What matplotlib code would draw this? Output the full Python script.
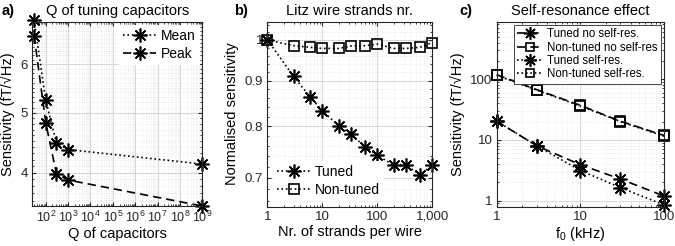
import matplotlib
matplotlib.use("Agg")
import matplotlib.pyplot as plt
from matplotlib.ticker import FixedLocator, FixedFormatter, MultipleLocator, LogLocator, NullFormatter, LogFormatterSciNotation

plt.rcParams['font.family'] = ['Liberation Sans', 'DejaVu Sans']
plt.rcParams['mathtext.fontset'] = 'custom'
plt.rcParams['mathtext.rm'] = 'Liberation Sans'
plt.rcParams['mathtext.it'] = 'Liberation Sans:italic'

# ---- Panel a data ----
q_caps = [30, 100, 300, 1000, 1e9]
sens_mean = [7.08, 5.24, 4.47, 4.36, 4.13]
sens_peak = [6.68, 4.82, 3.98, 3.89, 3.53]

# ---- Panel b data ----
strands = [1, 3, 6, 10, 20, 33, 60, 100, 200, 330, 600, 1000]
norm_tuned = [1.0, 0.910, 0.863, 0.833, 0.800, 0.783, 0.759, 0.742, 0.723, 0.723, 0.706, 0.723]
norm_nontuned = [1.0, 0.985, 0.981, 0.978, 0.978, 0.984, 0.985, 0.989, 0.978, 0.978, 0.981, 0.993]
b_xticks = [1, 10, 100, 1000]
b_xticklabels = ['1', '10', '100', '1,000']

# ---- Panel c data ----
f0 = [1, 3, 10, 30, 100]
tuned_noself = [20.3, 8.0, 3.9, 2.27, 1.19]
nontuned_noself = [118, 67, 37, 20.3, 11.8]
tuned_self = [20.3, 8.0, 3.13, 1.64, 0.85]
nontuned_self = [116, 66, 36, 20.0, 11.5]

W, H = 675, 246
fig = plt.figure(figsize=(W / 100, H / 100), dpi=100)

def rect(l, r, t, b):
    return [l / W, 1 - b / H, (r - l) / W, (b - t) / H]

ax_a = fig.add_axes(rect(32.3, 202.3, 22.3, 206))
ax_b = fig.add_axes(rect(267.3, 432.3, 21.7, 206.5))
ax_c = fig.add_axes(rect(496.7, 664, 22, 206.5))

AST = (8, 2, 0)
lw = 1.2
ms = 10
FS = 10.5
TFS = 9.5

def style(ax):
    ax.set_axisbelow(True)
    ax.grid(True, which='major', color='#d0d0d0', lw=0.6, ls='-')
    ax.grid(True, which='minor', color='#e0e0e0', lw=0.5, ls=':')
    ax.tick_params(which='both', direction='in', top=True, right=True,
                   labelsize=TFS, colors='#262626', pad=3)
    ax.tick_params(which='major', length=3)
    ax.tick_params(which='minor', length=1.5)
    for s in ax.spines.values():
        s.set_color('#262626')
        s.set_linewidth(0.8)

def white_legend(ax, edge, **kw):
    leg = ax.legend(frameon=True, fancybox=False, **kw)
    leg.get_frame().set_edgecolor(edge)
    leg.get_frame().set_linewidth(0.6)
    leg.get_frame().set_facecolor('white')
    leg.get_frame().set_alpha(1)
    return leg

# Panel a
ax = ax_a
ax.plot(q_caps, sens_mean, ls=':', color='k', lw=lw, marker=AST, ms=ms, mew=1.2,
        label='Mean', clip_on=False)
ax.plot(q_caps, sens_peak, ls=(0, (5, 3)), color='k', lw=lw, marker=AST, ms=ms, mew=1.2,
        label='Peak', clip_on=False)
ax.set_xscale('log')
ax.set_yscale('log')
ax.set_xlim(25, 1e9)
ax.set_ylim(3.53, 7.02)
ax.xaxis.set_major_locator(FixedLocator([10.0 ** k for k in range(2, 10)]))
ax.xaxis.set_major_formatter(LogFormatterSciNotation())
ax.xaxis.set_minor_locator(LogLocator(base=10, subs=range(2, 10), numticks=50))
ax.xaxis.set_minor_formatter(NullFormatter())
ax.yaxis.set_major_locator(FixedLocator([4, 5, 6]))
ax.yaxis.set_major_formatter(FixedFormatter(['4', '5', '6']))
ax.yaxis.set_minor_locator(MultipleLocator(0.1))
ax.yaxis.set_minor_formatter(NullFormatter())
style(ax)
ax.tick_params(axis='x', labelsize=TFS - 0.5)
ax.set_xlabel('Q of capacitors', fontsize=FS, labelpad=1)
ax.set_ylabel('Sensitivity (fT/\u221aHz)', fontsize=FS, labelpad=4)
ax.set_title('Q of tuning capacitors', fontsize=FS, pad=5)
white_legend(ax, 'none', loc='upper right', fontsize=FS - 0.5,
             handlelength=2.4, borderaxespad=0.2, handletextpad=0.3,
             labelspacing=0.25, borderpad=0.3)

# Panel b
ax = ax_b
ax.plot(strands, norm_tuned, ls=':', color='k', lw=lw, marker=AST, ms=ms, mew=1.2,
        label='Tuned', clip_on=False)
ax.plot(strands, norm_nontuned, ls=':', color='k', lw=lw, marker='s', ms=7, mew=1.2,
        mfc='none', label='Non-tuned', clip_on=False)
ax.set_xscale('log')
ax.set_yscale('log')
ax.set_xlim(1, 1000)
ax.set_ylim(0.65, 1.048)
ax.xaxis.set_major_locator(FixedLocator(b_xticks))
ax.xaxis.set_major_formatter(FixedFormatter(b_xticklabels))
ax.xaxis.set_minor_locator(LogLocator(base=10, subs=range(2, 10), numticks=50))
ax.xaxis.set_minor_formatter(NullFormatter())
ax.yaxis.set_major_locator(FixedLocator([0.7, 0.8, 0.9, 1.0]))
ax.yaxis.set_major_formatter(FixedFormatter(['0.7', '0.8', '0.9', '1']))
ax.yaxis.set_minor_locator(MultipleLocator(0.02))
ax.yaxis.set_minor_formatter(NullFormatter())
style(ax)
ax.set_xlabel('Nr. of strands per wire', fontsize=FS, labelpad=2)
ax.set_ylabel('Normalised sensitivity', fontsize=FS, labelpad=4)
ax.set_title('Litz wire strands nr.', fontsize=FS, pad=5)
white_legend(ax, 'none', loc='lower left', fontsize=FS - 0.5,
             handlelength=2.4, borderaxespad=0.4, handletextpad=0.3,
             labelspacing=0.25, borderpad=0.3)

# Panel c
ax = ax_c
ax.plot(f0, tuned_noself, ls=(0, (5, 3)), color='k', lw=lw, marker=AST, ms=ms, mew=1.2,
        label='Tuned no self-res.', clip_on=False)
ax.plot(f0, nontuned_noself, ls=(0, (5, 3)), color='k', lw=lw, marker='s', ms=7, mew=1.2,
        mfc='none', label='Non-tuned no self-res', clip_on=False)
ax.plot(f0, tuned_self, ls=':', color='k', lw=lw, marker=AST, ms=ms, mew=1.2,
        label='Tuned self-res.', clip_on=False)
ax.plot(f0, nontuned_self, ls=':', color='k', lw=lw, marker='s', ms=7, mew=1.2,
        mfc='none', label='Non-tuned self-res.', clip_on=False)
ax.set_xscale('log')
ax.set_yscale('log')
ax.set_xlim(1, 100)
ax.set_ylim(0.8, 870)
ax.xaxis.set_major_locator(FixedLocator([1, 10, 100]))
ax.xaxis.set_major_formatter(FixedFormatter(['1', '10', '100']))
ax.xaxis.set_minor_locator(LogLocator(base=10, subs=range(2, 10), numticks=50))
ax.xaxis.set_minor_formatter(NullFormatter())
ax.yaxis.set_major_locator(FixedLocator([1, 10, 100]))
ax.yaxis.set_major_formatter(FixedFormatter(['1', '10', '100']))
ax.yaxis.set_minor_locator(LogLocator(base=10, subs=range(2, 10), numticks=50))
ax.yaxis.set_minor_formatter(NullFormatter())
style(ax)
ax.set_xlabel('f$_0$ (kHz)', fontsize=FS, labelpad=2)
ax.set_ylabel('Sensitivity (fT/\u221aHz)', fontsize=FS, labelpad=4)
ax.set_title('Self-resonance effect', fontsize=FS, pad=5)
white_legend(ax, '#262626', loc='upper right', fontsize=8.3,
             handlelength=2.2, borderaxespad=0.25, handletextpad=0.4,
             labelspacing=0.12, borderpad=0.3, markerscale=0.9)

# Panel letters
fig.text(2 / W, 1 - 11 / H, 'a)', fontsize=10.5, fontweight='bold', va='center', ha='left')
fig.text(234 / W, 1 - 11 / H, 'b)', fontsize=10.5, fontweight='bold', va='center', ha='left')
fig.text(459 / W, 1 - 11 / H, 'c)', fontsize=10.5, fontweight='bold', va='center', ha='left')

fig.savefig('out.png', dpi=100)
